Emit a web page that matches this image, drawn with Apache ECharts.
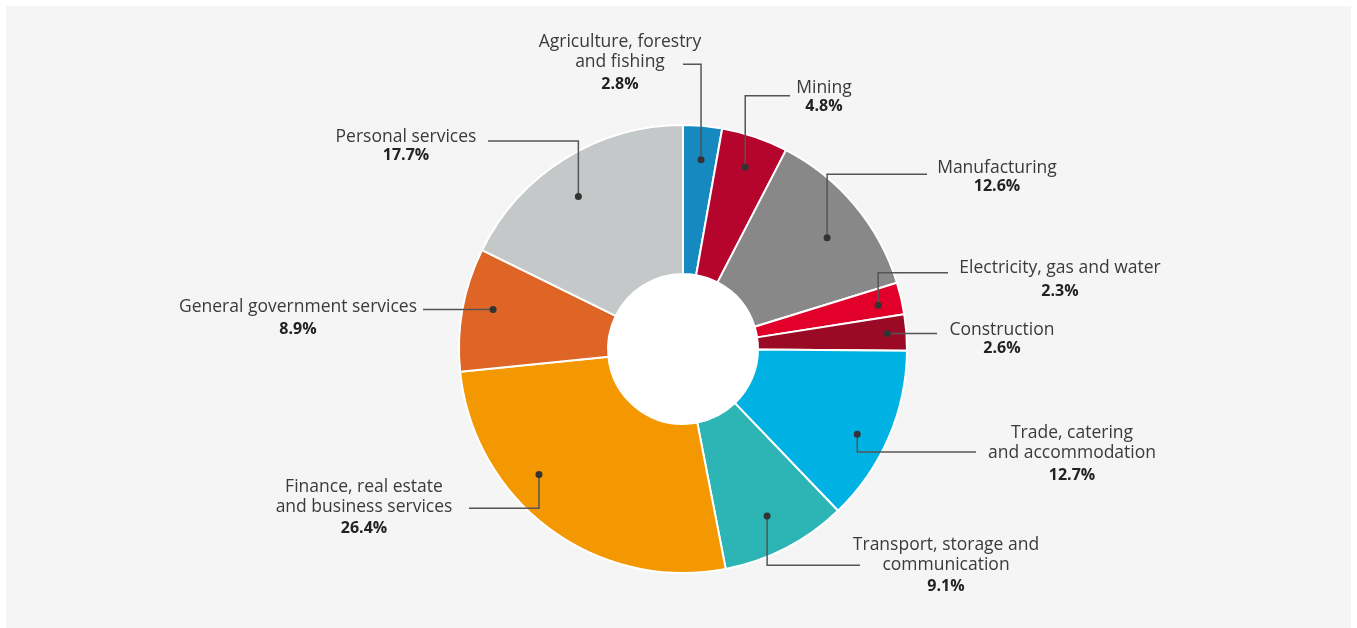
<!DOCTYPE html>
<html>
<head>
<meta charset="utf-8">
<script src="https://cdn.jsdelivr.net/npm/echarts@6/dist/echarts.min.js"></script>
<style>
  html, body { margin: 0; padding: 0; background: #fff; }
  #chart { width: 1357px; height: 628px; }
</style>
</head>
<body>
<div id="chart"></div>
<script>
// Sectors of the economy, clockwise from twelve o'clock
const sectors = [
  'Agriculture, forestry\nand fishing',
  'Mining',
  'Manufacturing',
  'Electricity, gas and water',
  'Construction',
  'Trade, catering\nand accommodation',
  'Transport, storage and\ncommunication',
  'Finance, real estate\nand business services',
  'General government services',
  'Personal services'
];
// Share of total (%)
const shares = [2.8, 4.8, 12.6, 2.3, 2.6, 12.7, 9.1, 26.4, 8.9, 17.7];

const sliceColors = [
  '#1589c0', '#b5052d', '#888888', '#e2002b', '#9b0a25',
  '#00b2e3', '#2db5b5', '#f39800', '#de6526', '#c4c8c8'
];

// Callout placement for each sector:
//   t, r   - where the leader line starts: fraction along the sector's arc and distance from the centre
//   cx,top - centre x and top y of the text block
//   gap    - distance between the last name line and the percentage line
//   lineY  - height of the horizontal part of the leader (null = level with its start)
//   endX   - where the horizontal part stops
const calloutPlacement = [
  { t: 0.54, r: 190, cx: 620,  top: 32.5,  gap: 21.5, lineY: 64.3,  endX: 683 },
  { t: 0.51, r: 192, cx: 824,  top: 78.5,  gap: 18,   lineY: 95.7,  endX: 790 },
  { t: 0.55, r: 182, cx: 997,  top: 158,   gap: 18.3, lineY: 174.3, endX: 927 },
  { t: 0.55, r: 200, cx: 1060, top: 258,   gap: 23,   lineY: 272.7, endX: 948 },
  { t: 0.49, r: 205, cx: 1002, top: 320.5, gap: 17.7, lineY: null,  endX: 937 },
  { t: 0.56, r: 194, cx: 1072, top: 423,   gap: 22,   lineY: 452,   endX: 976 },
  { t: 0.52, r: 187, cx: 946,  top: 535.5, gap: 20.5, lineY: 565.3, endX: 860 },
  { t: 0.63, r: 191, cx: 364,  top: 477,   gap: 21,   lineY: 508.3, endX: 469 },
  { t: 0.55, r: 194, cx: 298,  top: 297,   gap: 22.3, lineY: null,  endX: 423 },
  { t: 0.46, r: 185, cx: 406,  top: 127,   gap: 18.3, lineY: 141,   endX: 488 }
];

const CENTER = [683, 349];
const R_INNER = 75;
const R_OUTER = 224;
const FONT = '"Open Sans", "DejaVu Sans", sans-serif';

const total = shares.reduce((a, b) => a + b, 0);

// Point inside sector i where its callout leader starts (pie runs clockwise from the top)
function anchorPoint(i) {
  let before = 0;
  for (let k = 0; k < i; k++) before += shares[k];
  const a = (before + shares[i] * calloutPlacement[i].t) / total * 2 * Math.PI;
  const r = calloutPlacement[i].r;
  return [CENTER[0] + r * Math.sin(a), CENTER[1] - r * Math.cos(a)];
}

const rich = {
  n: { fontFamily: FONT, fontSize: 17.5, lineHeight: 20, color: '#3a3a3a' }
};
calloutPlacement.forEach((c, i) => {
  rich['p' + i] = {
    fontFamily: FONT, fontSize: 16, fontWeight: 'bold',
    lineHeight: 2 * (c.gap - 10), color: '#222'
  };
});

const ringBase = {
  type: 'pie',
  center: CENTER,
  radius: [R_INNER, R_OUTER],
  startAngle: 90,
  clockwise: true,
  avoidLabelOverlap: false,
  silent: true,
  emphasis: { disabled: true }
};

const chart = echarts.init(document.getElementById('chart'), null, { renderer: 'canvas' });

chart.setOption({
  backgroundColor: '#ffffff',
  animation: false,
  graphic: [{
    type: 'rect',
    z: 0,
    silent: true,
    shape: { x: 6, y: 6, width: 1345, height: 622 },
    style: { fill: '#f5f5f5' }
  }],
  series: [
    {
      // white hole in the middle of the ring
      type: 'pie',
      z: 1,
      center: CENTER,
      radius: [0, R_INNER],
      silent: true,
      label: { show: false },
      labelLine: { show: false },
      emphasis: { disabled: true },
      data: [{ value: 1, name: '', itemStyle: { color: '#ffffff' } }]
    },
    Object.assign({}, ringBase, {
      // the coloured ring
      z: 2,
      itemStyle: { borderColor: '#ffffff', borderWidth: 2 },
      label: { show: false },
      labelLine: { show: false },
      data: sectors.map((name, i) => ({
        name: name,
        value: shares[i],
        itemStyle: { color: sliceColors[i] }
      }))
    }),
    Object.assign({}, ringBase, {
      // callout texts and leader lines, laid over the ring
      z: 3,
      itemStyle: { color: 'rgba(0,0,0,0)', borderWidth: 0 },
      label: {
        show: true,
        position: 'outside',
        overflow: 'none',
        align: 'center',
        formatter: p => p.name.split('\n').map(s => '{n|' + s + '}').join('\n') +
          '\n{p' + p.dataIndex + '|' + shares[p.dataIndex].toFixed(1) + '%}',
        rich: rich
      },
      labelLine: {
        show: true,
        length: 10,
        length2: 10,
        lineStyle: { color: '#555555', width: 1.5 }
      },
      labelLayout: params => {
        const i = params.dataIndex;
        const c = calloutPlacement[i];
        const a = anchorPoint(i);
        const y = c.lineY == null ? a[1] : c.lineY;
        return {
          x: c.cx,
          y: c.top,
          align: 'center',
          verticalAlign: 'top',
          labelLinePoints: [a, [a[0], y], [c.endX, y]]
        };
      },
      data: sectors.map((name, i) => ({ name: name, value: shares[i] }))
    }),
    Object.assign({}, ringBase, {
      // dots at the start of each leader line
      z: 4,
      itemStyle: { color: 'rgba(0,0,0,0)', borderWidth: 0 },
      label: {
        show: true,
        position: 'inside',
        formatter: '{d|}',
        rich: {
          d: { width: 7, height: 7, borderRadius: 3.5, backgroundColor: '#333333' }
        }
      },
      labelLine: { show: false },
      labelLayout: params => {
        const a = anchorPoint(params.dataIndex);
        return { x: a[0], y: a[1], align: 'center', verticalAlign: 'middle' };
      },
      data: sectors.map((name, i) => ({ name: name, value: shares[i] }))
    })
  ]
});
</script>
</body>
</html>
